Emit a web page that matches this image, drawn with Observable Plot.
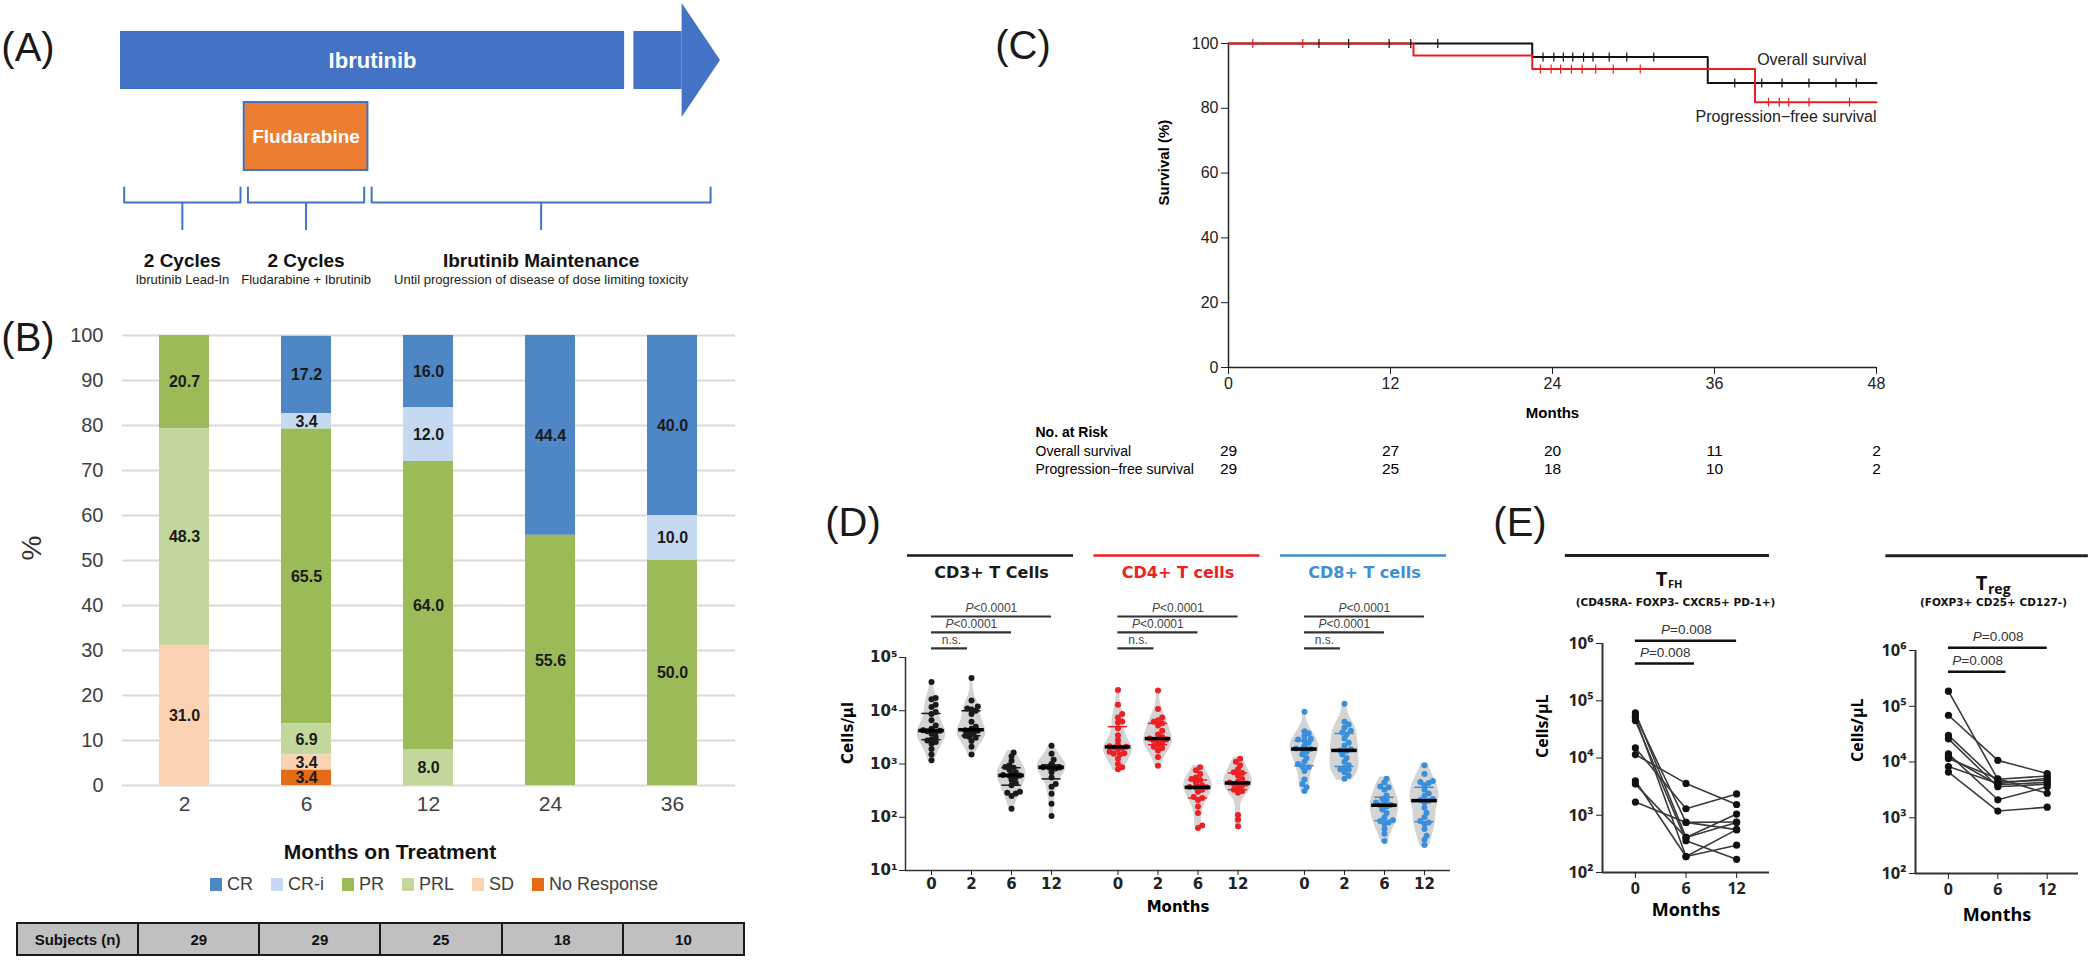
<!DOCTYPE html>
<html>
<head>
<meta charset="utf-8">
<script src="https://cdn.jsdelivr.net/npm/d3@7"></script>
<script src="https://cdn.jsdelivr.net/npm/@observablehq/plot@0.6"></script>
<style>
  html, body { margin:0; padding:0; background:#fff; }
  #fig { position:relative; width:2094px; height:975px; overflow:hidden; background:#fff; }
  #fig svg { position:absolute; left:0; top:0; }
  .plabel { position:absolute; font-family:"Liberation Sans", Arial, sans-serif; font-size:40px; color:#1a1a1a; line-height:1; transform:translate(-50%,-50%); }
  #legendB { position:absolute; left:210px; top:874px; display:flex; gap:18px; font-family:"Liberation Sans", Arial, sans-serif; font-size:18px; color:#404040; align-items:center; }
  #legendB .item { display:flex; align-items:center; gap:5px; }
  #legendB .sw { width:12px; height:13px; display:inline-block; }
  #tableB { position:absolute; left:16px; top:922px; border-collapse:collapse; table-layout:fixed; width:729px; font-family:"Liberation Sans", Arial, sans-serif; }
  #tableB td { border:2px solid #1a1a1a; background:#c0c0c0; height:30px; text-align:center; font-weight:bold; font-size:15px; padding:0; color:#111; }
</style>
</head>
<body>
<div id="fig"></div>
<script>
// ======================= DATA =======================
// Panel A (schematic, in treatment cycles)
const aPhaseTitle = ["2 Cycles", "2 Cycles", "Ibrutinib Maintenance"];
const aPhaseSub = ["Ibrutinib Lead-In", "Fludarabine + Ibrutinib", "Until progression of disease of dose limiting toxicity"];
const aPhaseStart = [0, 2, 4];
const aPhaseEnd = [2, 4, 9.6];
const aDrugName = ["Ibrutinib", "Fludarabine"];
const aDrugStart = [0, 2];
const aDrugEnd = [8.15, 4];

// Panel B (response, % of patients)
const bMonths = ["2", "6", "12", "24", "36"];
const bResponses = ["CR", "CR-i", "PR", "PRL", "SD", "No Response"];
const bColors = ["#4F86C6", "#C5D9F1", "#9BBB59", "#C3D69B", "#FBD2B2", "#E46C17"];
const bStackOrder = ["No Response", "SD", "PRL", "PR", "CR-i", "CR"];
const pctCR  = [0, 17.2, 16.0, 44.4, 40.0];
const pctCRi = [0, 3.4, 12.0, 0, 10.0];
const pctPR  = [20.7, 65.5, 64.0, 55.6, 50.0];
const pctPRL = [48.3, 6.9, 8.0, 0, 0];
const pctSD  = [31.0, 3.4, 0, 0, 0];
const pctNR  = [0, 3.4, 0, 0, 0];
const bSubjects = [29, 29, 25, 18, 10];
const bPercentTicks = [0, 10, 20, 30, 40, 50, 60, 70, 80, 90, 100];

// Panel C (Kaplan-Meier)
const kmTicksX = [0, 12, 24, 36, 48];
const kmTicksY = [0, 20, 40, 60, 80, 100];
const osStepT = [0, 22.5, 35.5, 48];
const osStepS = [100, 95.8, 87.8, 87.8];
const pfsStepT = [0, 13.7, 22.5, 39, 48];
const pfsStepS = [100, 96.3, 92.1, 81.9, 81.9];
const osCensorT = [6.7, 8.9, 11.9, 13.5, 15.5, 23.3, 24.1, 24.8, 25.5, 26.3, 27, 28.2, 29.5, 31.5, 37.5, 39.5, 41, 43, 45, 46.5];
const pfsCensorT = [1.8, 5.5, 23.1, 23.9, 24.6, 25.4, 26.2, 27.2, 28.5, 30.5, 40, 40.8, 41.5, 43, 46];
const riskOS = [29, 27, 20, 11, 2];
const riskPFS = [29, 25, 18, 10, 2];

// Panel D (cells/µl)
const dGroups = ["CD3+ T Cells", "CD4+ T cells", "CD8+ T cells"];
const dColors = ["#1a1a1a", "#ED2024", "#3B8ED8"];
const dMonths = ["0", "2", "6", "12"];
const cd3_0  = [34500, 17300, 16500, 13000, 11700, 9500, 8700, 6600, 5300, 4600, 4400, 4300, 4200, 4100, 3900, 3700, 3200, 2900, 2750, 2600, 2400, 1920, 1500, 1170];
const cd3_2  = [41000, 15500, 12000, 11000, 10500, 10000, 8700, 6200, 5000, 4600, 4400, 4300, 4200, 4000, 3700, 3400, 3200, 3100, 2700, 2100, 1500];
const cd3_6  = [1650, 1400, 1150, 950, 880, 850, 780, 700, 650, 620, 610, 600, 560, 500, 440, 400, 300, 290, 280, 250, 144];
const cd3_12 = [2200, 1550, 1200, 1000, 980, 960, 940, 900, 880, 870, 860, 850, 820, 700, 560, 420, 375, 275, 180, 105];
const cd4_0  = [24500, 13000, 8700, 7500, 6300, 6000, 4700, 3450, 2800, 2300, 2150, 2100, 2080, 2050, 2000, 1900, 1700, 1600, 1550, 1500, 1250, 1000, 870, 800];
const cd4_2  = [24000, 10800, 7500, 6600, 6200, 5800, 5300, 4200, 3600, 3200, 3000, 2900, 2850, 2700, 2500, 2300, 2100, 2000, 1800, 1350, 930];
const cd4_6  = [870, 760, 650, 560, 520, 500, 450, 400, 380, 370, 365, 360, 330, 300, 240, 230, 210, 160, 120, 70, 63];
const cd4_12 = [1250, 1100, 950, 800, 700, 680, 600, 520, 470, 450, 440, 430, 420, 400, 360, 330, 310, 290, 110, 90, 68];
const cd8_0  = [9600, 4100, 3800, 3400, 3000, 2900, 2800, 2500, 2200, 2100, 2000, 1950, 1920, 1900, 1700, 1500, 1300, 1100, 1000, 900, 870, 740, 510, 420, 365, 310];
const cd8_2  = [13500, 6200, 5500, 4800, 4200, 3900, 3600, 3000, 2500, 2200, 1900, 1800, 1750, 1500, 1300, 1100, 950, 850, 800, 780, 700, 600, 530];
const cd8_6  = [530, 450, 380, 365, 330, 255, 220, 210, 190, 175, 170, 168, 160, 140, 120, 100, 88, 85, 80, 75, 60, 49, 36];
const cd8_12 = [950, 650, 480, 460, 440, 400, 330, 280, 250, 220, 210, 205, 190, 150, 120, 100, 85, 80, 75, 60, 45, 38, 30];
const dPLabels = ["n.s.", "<0.0001", "<0.0001"];

// Panel E (paired, cells/µL)
const eMonths = [0, 6, 12];
const tfh0  = [1700, 11500, 15000, 61600, 51500, 45000, 4000, 3500, 55000];
const tfh6  = [750, 3600, 1300, 410, 190, 360, 190, 410, 750];
const tfh12 = [760, 1540, 2360, 1050, 560, 170, 300, 750, 560];
const treg0  = [186000, 69000, 30000, 26000, 14000, 11500, 8300, 6600, 12500];
const treg6  = [4900, 10700, 4400, 3600, 2100, 5000, 4100, 1320, 3900];
const treg12 = [5600, 6200, 4700, 4000, 3600, 2750, 5100, 1550, 4300];

// ======================= RENDER =======================
const W = 2094, H = 975;
const fig = document.getElementById("fig");
const ARIAL = '"Liberation Sans", Arial, Helvetica, sans-serif';
const VERD = '"DejaVu Sans", Verdana, sans-serif';
const OPEN = '"Open Sans", "DejaVu Sans", sans-serif';
const sty = f => ({background: "transparent", overflow: "visible", fontFamily: f, maxWidth: "none"});
const add = el => { fig.appendChild(el); return el; };
const SUP = "⁰¹²³⁴⁵⁶⁷⁸⁹";
const sup = d => "10" + SUP[Math.round(Math.log10(d))];

// panel letters
[["(A)", 28, 47], ["(B)", 28, 337], ["(C)", 1023, 45], ["(D)", 853, 522], ["(E)", 1520, 522]].forEach(([t, x, y]) => {
  const d = document.createElement("div"); d.className = "plabel"; d.textContent = t;
  d.style.left = x + "px"; d.style.top = y + "px"; fig.appendChild(d);
});

// ---------- Panel A ----------
const aBlue = "#4472C4", aOrange = "#ED7D31";
const aPhases = aPhaseTitle.map((t, i) => ({title: t, sub: aPhaseSub[i], start: aPhaseStart[i], end: aPhaseEnd[i], mid: (aPhaseStart[i] + aPhaseEnd[i]) / 2}));
const aBrace = aPhases.flatMap((p, i) => [[p.start + 0.06, 187], [p.start + 0.06, 202], [p.end - 0.06, 202], [p.end - 0.06, 187]].map(([x, y]) => ({i, x, y})));
const aArrowHead = [{x: 9.08, y1: 3, y2: 117}, {x: 9.7, y1: 60, y2: 60}];
add(Plot.plot({
  width: W, height: H, margin: 0, style: sty(ARIAL),
  x: {domain: [0, 9.7], range: [120, 720], axis: null},
  y: {domain: [0, 300], range: [0, 300], axis: null},
  marks: [
    Plot.rect([0], {x1: aDrugStart[0], x2: aDrugEnd[0], y1: 31, y2: 89, fill: aBlue}),
    Plot.rect([0], {x1: 8.3, x2: 9.08, y1: 31, y2: 89, fill: aBlue}),
    Plot.areaY(aArrowHead, {x: "x", y1: "y1", y2: "y2", fill: aBlue}),
    Plot.text([aDrugName[0]], {x: (aDrugStart[0] + aDrugEnd[0]) / 2, y: 60, fill: "white", fontWeight: "bold", fontSize: 22}),
    Plot.rect([0], {x1: aDrugStart[1], x2: aDrugEnd[1], y1: 102, y2: 170, fill: aOrange, stroke: aBlue, strokeWidth: 2}),
    Plot.text([aDrugName[1]], {x: (aDrugStart[1] + aDrugEnd[1]) / 2, y: 136, fill: "white", fontWeight: "bold", fontSize: 19}),
    Plot.line(aBrace, {x: "x", y: "y", z: "i", stroke: aBlue, strokeWidth: 2}),
    Plot.ruleX(aPhases, {x: "mid", y1: 202, y2: 230, stroke: aBlue, strokeWidth: 2}),
    Plot.text(aPhases, {x: "mid", y: 260, text: "title", fontWeight: "bold", fontSize: 19, fill: "#111"}),
    Plot.text(aPhases, {x: "mid", y: 279, text: "sub", fontSize: 13, fill: "#222"})
  ]
}));

// ---------- Panel B ----------
const bSeries = [pctCR, pctCRi, pctPR, pctPRL, pctSD, pctNR];
const bTable = [];
bMonths.forEach((m, i) => bResponses.forEach((r, k) => { if (bSeries[k][i] > 0) bTable.push({month: m, status: r, pct: bSeries[k][i]}); }));
add(Plot.plot({
  width: W, height: H, marginLeft: 122, marginRight: W - 735, marginTop: 335, marginBottom: H - 785,
  style: sty(ARIAL),
  x: {domain: bMonths, paddingInner: 0.59, paddingOuter: 0.295},
  y: {domain: [0, 100]},
  color: {domain: bResponses, range: bColors},
  marks: [
    Plot.ruleY(bPercentTicks, {stroke: "#d9d9d9", strokeWidth: 2}),
    Plot.barY(bTable, Plot.stackY({order: bStackOrder, x: "month", y: "pct", z: "status", fill: "status"})),
    Plot.text(bTable, Plot.stackY({order: bStackOrder, x: "month", y: "pct", z: "status", text: d => d.pct.toFixed(1), fontWeight: "bold", fontSize: 16, fill: "#1a1a1a"})),
    Plot.axisX({tickSize: 0, tickPadding: 11, fontSize: 21, color: "#404040", label: null}),
    Plot.axisY({ticks: bPercentTicks, tickSize: 0, tickPadding: 19, fontSize: 20, color: "#404040", label: null}),
    Plot.text(["%"], {frameAnchor: "left", dx: -90, rotate: -90, fontSize: 28, fill: "#333", lineAnchor: "middle"}),
    Plot.text(["Months on Treatment"], {frameAnchor: "bottom", dx: -39, dy: 67, lineAnchor: "middle", fontSize: 21, fontWeight: "bold", fill: "#111"})
  ]
}));
// legend
const leg = document.createElement("div"); leg.id = "legendB";
bResponses.forEach((r, k) => {
  const it = document.createElement("div"); it.className = "item";
  const sw = document.createElement("span"); sw.className = "sw"; sw.style.background = bColors[k];
  const tx = document.createElement("span"); tx.textContent = r;
  it.appendChild(sw); it.appendChild(tx); leg.appendChild(it);
});
fig.appendChild(leg);
// subjects table
const tbl = document.createElement("table"); tbl.id = "tableB";
const tr = document.createElement("tr");
["Subjects (n)", ...bSubjects.map(String)].forEach(t => { const td = document.createElement("td"); td.textContent = t; tr.appendChild(td); });
tbl.appendChild(tr); fig.appendChild(tbl);

// ---------- Panel C ----------
const survAt = (T, S, t) => { let s = S[0]; T.forEach((tt, i) => { if (tt <= t) s = S[i]; }); return s; };
const osCurve = osStepT.map((t, i) => ({t, s: osStepS[i]}));
const pfsCurve = pfsStepT.map((t, i) => ({t, s: pfsStepS[i]}));
const osCens = osCensorT.map(t => ({t, s: survAt(osStepT, osStepS, t)}));
const pfsCens = pfsCensorT.map(t => ({t, s: survAt(pfsStepT, pfsStepS, t)}));
const vtick = {draw(ctx, size) { const r = Math.sqrt(size / Math.PI); ctx.moveTo(0, -r); ctx.lineTo(0, r); }};
const RED = "#EE1D23";
add(Plot.plot({
  width: W, height: H, marginLeft: 1228, marginRight: W - 1876, marginTop: 43, marginBottom: H - 367,
  style: sty(ARIAL),
  x: {domain: [0, 48]}, y: {domain: [0, 100]},
  marks: [
    Plot.axisY({ticks: kmTicksY, tickSize: 7, tickPadding: 3, fontSize: 16, label: null, color: "#222"}),
    Plot.axisX({ticks: kmTicksX, tickSize: 7, tickPadding: 3, fontSize: 16, label: null, color: "#222"}),
    Plot.ruleX([0], {stroke: "#222", strokeWidth: 1.5}),
    Plot.ruleY([0], {stroke: "#222", strokeWidth: 1.5}),
    Plot.line(osCurve, {x: "t", y: "s", curve: "step-after", stroke: "#111", strokeWidth: 2}),
    Plot.line(pfsCurve, {x: "t", y: "s", curve: "step-after", stroke: RED, strokeWidth: 2}),
    Plot.dot(osCens, {x: "t", y: "s", symbol: vtick, r: 4.5, fill: "none", stroke: "#111", strokeWidth: 1.2}),
    Plot.dot(pfsCens, {x: "t", y: "s", symbol: vtick, r: 4.5, fill: "none", stroke: RED, strokeWidth: 1.2}),
    Plot.text(["Overall survival"], {frameAnchor: "top-right", dx: -10, dy: 16, textAnchor: "end", lineAnchor: "middle", fontSize: 16, fill: "#222"}),
    Plot.text(["Progression\u2212free survival"], {frameAnchor: "top-right", dx: 0, dy: 73, textAnchor: "end", lineAnchor: "middle", fontSize: 16, fill: "#222"}),
    Plot.text(["Survival (%)"], {frameAnchor: "left", dx: -64, rotate: -90, fontWeight: "bold", fontSize: 15, lineAnchor: "middle"}),
    Plot.text(["Months"], {frameAnchor: "bottom", dy: 46, fontWeight: "bold", fontSize: 15, lineAnchor: "middle"}),
    Plot.text(["No. at Risk"], {frameAnchor: "bottom-left", dx: -193, dy: 65, textAnchor: "start", lineAnchor: "middle", fontWeight: "bold", fontSize: 14}),
    Plot.text(["Overall survival"], {frameAnchor: "bottom-left", dx: -193, dy: 84, textAnchor: "start", lineAnchor: "middle", fontSize: 14}),
    Plot.text(["Progression\u2212free survival"], {frameAnchor: "bottom-left", dx: -193, dy: 102, textAnchor: "start", lineAnchor: "middle", fontSize: 14}),
    Plot.text(riskOS, {x: (d, i) => kmTicksX[i], text: d => String(d), frameAnchor: "bottom", dy: 84, lineAnchor: "middle", fontSize: 15.5}),
    Plot.text(riskPFS, {x: (d, i) => kmTicksX[i], text: d => String(d), frameAnchor: "bottom", dy: 102, lineAnchor: "middle", fontSize: 15.5})
  ]
}));

// ---------- Panel D ----------
const dValues = [[cd3_0, cd3_2, cd3_6, cd3_12], [cd4_0, cd4_2, cd4_6, cd4_12], [cd8_0, cd8_2, cd8_6, cd8_12]];
const dGap = 4.66;
const dPos = (g, i) => g * dGap + i;
const PX_PER_X = 40, PX_PER_DEC = 53.25;
function violinShape(values, h = 0.17) {
  const L = values.map(Math.log10);
  const lo = d3.min(L) - 0.03, hi = d3.max(L) + 0.03, n = 48;
  const pts = d3.range(n + 1).map(k => lo + (hi - lo) * k / n);
  const dens = pts.map(p => d3.sum(L, l => Math.exp(-0.5 * ((p - l) / h) ** 2)));
  const m = d3.max(dens);
  return pts.map((p, k) => ({ly: p, w: dens[k] / m}));
}
function swarm(values, r) {
  const pts = values.map(v => ({v, py: Math.log10(v) * PX_PER_DEC})).sort((a, b) => a.py - b.py);
  const placed = [], d2 = (2 * r * 0.72) ** 2;
  for (const p of pts) {
    for (const k of [0, 1, -1, 2, -2, 3, -3, 4, -4]) {
      const px = k * 2.1;
      if (placed.every(q => (q.px - px) ** 2 + (q.py - p.py) ** 2 >= d2)) { p.px = px; break; }
    }
    if (p.px === undefined) p.px = 0;
    placed.push(p);
  }
  return placed;
}
const dViolin = [], dDots = [], dMed = [], dQuart = [], dTicks = [], dTickLabel = new Map();
dValues.forEach((grp, g) => grp.forEach((vals, i) => {
  const cx = dPos(g, i), key = g + "-" + i;
  dTicks.push(cx); dTickLabel.set(cx, dMonths[i]);
  violinShape(vals).forEach(p => dViolin.push({key, y: 10 ** p.ly, x1: cx - 0.36 * p.w, x2: cx + 0.36 * p.w}));
  swarm(vals, 3).forEach(p => dDots.push({x: cx + p.px / PX_PER_X, v: p.v, color: dColors[g]}));
  const s = vals.slice().sort(d3.ascending);
  dMed.push({y: d3.quantile(s, 0.5), x1: cx - 0.32, x2: cx + 0.32});
  dQuart.push({y: d3.quantile(s, 0.25), x1: cx - 0.24, x2: cx + 0.24, color: dColors[g]});
  dQuart.push({y: d3.quantile(s, 0.75), x1: cx - 0.24, x2: cx + 0.24, color: dColors[g]});
}));
const dHead = dGroups.map((name, g) => ({name, color: dColors[g], x1: dPos(g, 0) - 0.6, x2: dPos(g, 3) + 0.55, cx: dPos(g, 1.5)}));
const dBr = [];
dGroups.forEach((name, g) => dPLabels.forEach((lab, lvl) => dBr.push({x1: dPos(g, 0), x2: dPos(g, lvl + 1) - (lvl === 0 ? 0.1 : 0), mid: (dPos(g, 0) + dPos(g, lvl + 1)) / 2, y: 10 ** (5.17 + 0.3 * lvl), label: lab, ns: lab === "n.s."})));
add(Plot.plot({
  width: W, height: H, marginLeft: 905, marginRight: W - 1450, marginTop: 657, marginBottom: H - 870,
  style: sty(VERD),
  x: {domain: [-0.65, 2 * dGap + 3 + 0.65]},
  y: {type: "log", domain: [10, 1e5]},
  color: {type: "identity"},
  marks: [
    Plot.areaX(dViolin, {y: "y", x1: "x1", x2: "x2", z: "key", fill: "#d4d4d4"}),
    Plot.ruleY(dQuart, {y: "y", x1: "x1", x2: "x2", stroke: "color", strokeWidth: 1.5}),
    Plot.dot(dDots, {x: "x", y: "v", r: 3, fill: "color"}),
    Plot.ruleY(dMed, {y: "y", x1: "x1", x2: "x2", stroke: "#000", strokeWidth: 3.5}),
    Plot.ruleX([-0.65], {stroke: "#333", strokeWidth: 1.5}),
    Plot.ruleY([10], {stroke: "#333", strokeWidth: 1.5}),
    Plot.axisY({ticks: [10, 100, 1e3, 1e4, 1e5], tickFormat: sup, tickSize: 6, tickPadding: 2, fontSize: 15, fontWeight: "bold", label: null, color: "#222"}),
    Plot.axisX(dTicks, {tickFormat: d => dTickLabel.get(d), tickSize: 5, tickPadding: 3, fontSize: 15, fontWeight: "bold", label: null, color: "#222"}),
    Plot.text(["Cells/µl"], {frameAnchor: "left", dx: -57, rotate: -90, fontWeight: "bold", fontSize: 15, lineAnchor: "middle"}),
    Plot.text(["Months"], {x: dPos(1, 1.5), frameAnchor: "bottom", dy: 37, fontWeight: "bold", fontSize: 15, lineAnchor: "middle"}),
    Plot.ruleY(dHead, {y: 10 ** 6.915, x1: "x1", x2: "x2", stroke: "color", strokeWidth: 2.5}),
    Plot.text(dHead, {x: "cx", y: 10 ** 6.58, text: "name", fill: "color", fontWeight: "bold", fontSize: 16}),
    Plot.ruleY(dBr, {y: "y", x1: "x1", x2: "x2", stroke: "#333", strokeWidth: 2.2}),
    Plot.text(dBr.filter(d => d.ns), {x: "mid", y: "y", dy: -8, text: "label", fontSize: 12, fill: "#444", fontFamily: ARIAL}),
    Plot.text(dBr.filter(d => !d.ns), {x: "mid", y: "y", dy: -8, dx: -26, text: () => "P", textAnchor: "start", fontStyle: "italic", fontSize: 12, fill: "#444", fontFamily: ARIAL}),
    Plot.text(dBr.filter(d => !d.ns), {x: "mid", y: "y", dy: -8, dx: -18, text: "label", textAnchor: "start", fontSize: 12, fill: "#444", fontFamily: ARIAL})
  ]
}));

// ---------- Panel E ----------
function ePanel(o) {
  const rows = [];
  o.series.forEach((arr, k) => arr.forEach((v, p) => rows.push({patient: p, month: eMonths[k], v})));
  return Plot.plot({
    width: W, height: H, marginLeft: o.left, marginRight: W - o.right, marginTop: o.top, marginBottom: H - o.bottom,
    style: sty(OPEN),
    x: {domain: o.xDomain}, y: {type: "log", domain: [100, 1e6]},
    marks: [
      Plot.ruleY([0], {y: o.headY, x1: o.headX[0], x2: o.headX[1], stroke: "#222", strokeWidth: 3}),
      Plot.text(["T"], {frameAnchor: "top", dx: o.tDx, dy: o.tDy, fontWeight: "bold", fontSize: 20, lineAnchor: "middle", fill: "#111"}),
      Plot.text([o.subscript], {frameAnchor: "top", dx: o.tDx + 6.5, dy: o.tDy + o.subDy, textAnchor: "start", fontWeight: "bold", fontSize: o.subFs, lineAnchor: "middle", fill: "#111"}),
      Plot.text([o.subtitle], {frameAnchor: "top", dx: o.stDx, dy: o.stDy, fontWeight: "bold", fontSize: 10.5, lineAnchor: "middle", fontFamily: VERD, fill: "#111"}),
      Plot.ruleY(o.brackets, {y: "y", x1: 0, x2: "to", stroke: "#111", strokeWidth: 2.5}),
      Plot.text(o.brackets, {x: d => d.to / 2, y: "y", dy: -11, dx: -25, text: () => "P", textAnchor: "start", fontStyle: "italic", fontSize: 13.5, fill: "#333", fontFamily: ARIAL}),
      Plot.text(o.brackets, {x: d => d.to / 2, y: "y", dy: -11, dx: -16, text: "label", textAnchor: "start", fontSize: 13.5, fill: "#333", fontFamily: ARIAL}),
      Plot.ruleX([o.xDomain[0]], {stroke: "#333", strokeWidth: 2}),
      Plot.ruleY([100], {stroke: "#333", strokeWidth: 2}),
      Plot.axisY({ticks: [1e2, 1e3, 1e4, 1e5, 1e6], tickFormat: sup, tickSize: 6, tickPadding: 3, fontSize: 16.5, fontWeight: "bold", label: null, color: "#222"}),
      Plot.axisX({ticks: eMonths, tickSize: 6, tickPadding: 4, fontSize: 16, fontWeight: "bold", label: null, color: "#222"}),
      Plot.line(rows, {x: "month", y: "v", z: "patient", stroke: "#3a3a3a", strokeWidth: 1.6}),
      Plot.dot(rows, {x: "month", y: "v", r: 3.6, fill: "#111"}),
      Plot.text(["Cells/µL"], {frameAnchor: "left", dx: o.cellsDx, rotate: -90, fontWeight: "bold", fontSize: 16, lineAnchor: "middle"}),
      Plot.text(["Months"], {frameAnchor: "bottom", dy: o.monthsDy, fontWeight: "bold", fontSize: 18, lineAnchor: "middle"})
    ]
  });
}
add(ePanel({
  left: 1602, right: 1769, top: 643, bottom: 872, xDomain: [-3.9, 15.9],
  series: [tfh0, tfh6, tfh12],
  headY: 10 ** 7.537, headX: [-8.3, 15.9],
  tDx: -24.5, tDy: -64, subscript: "FH", subFs: 11, subDy: 5,
  subtitle: "(CD45RA- FOXP3- CXCR5+ PD-1+)", stDx: -10.5, stDy: -41,
  brackets: [{to: 12, y: 10 ** 6.05, label: "=0.008"}, {to: 7, y: 10 ** 5.65, label: "=0.008"}],
  cellsDx: -60, monthsDy: 38
}));
add(ePanel({
  left: 1915, right: 2078, top: 650, bottom: 873, xDomain: [-4.0, 15.8],
  series: [treg0, treg6, treg12],
  headY: 10 ** 7.70, headX: [-7.6, 17.0],
  tDx: -15.5, tDy: -67, subscript: "reg", subFs: 14, subDy: 6,
  subtitle: "(FOXP3+ CD25+ CD127-)", stDx: -3.5, stDy: -48,
  brackets: [{to: 12, y: 10 ** 6.05, label: "=0.008"}, {to: 7, y: 10 ** 5.62, label: "=0.008"}],
  cellsDx: -58, monthsDy: 42
}));
</script>
</body>
</html>
